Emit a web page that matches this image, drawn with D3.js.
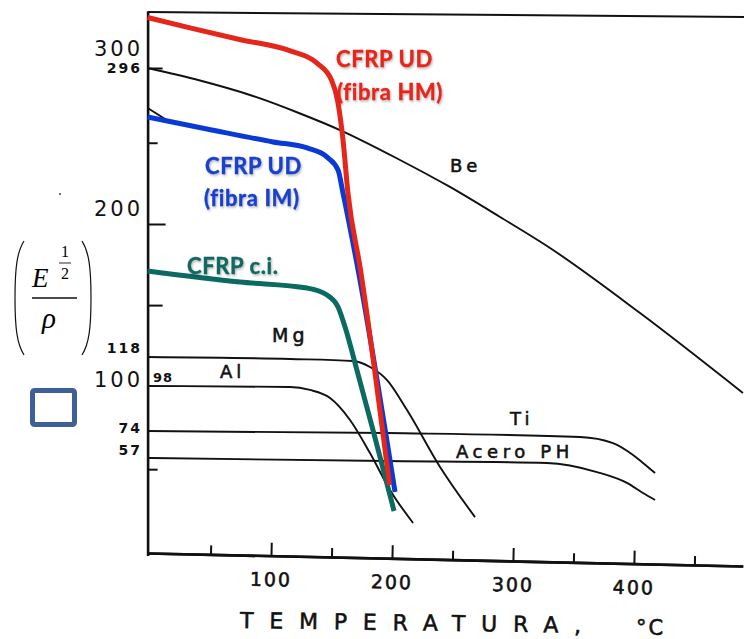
<!DOCTYPE html>
<html>
<head>
<meta charset="utf-8">
<script src="https://cdn.jsdelivr.net/npm/d3@7"></script>
<style>
body { margin: 0; background: #fff; }
svg { display: block; }
.scan { font-family: "DejaVu Sans", Verdana, sans-serif; fill: #111; }
.heavy { stroke: #111; stroke-width: 0.55; }
.cfrp { font-family: Lato, "Open Sans", sans-serif; font-weight: 700; font-variant-ligatures: none; }
</style>
</head>
<body>
<svg id="chart" width="744" height="639"></svg>
<script>
// ----- data (temperature in C, value of E^1/2 / rho) -----
const hmTemp = [-2, 33, 74, 116, 138, 150, 155, 159.5, 163.6, 174, 198];
const hmVal  = [327, 320.6, 313.5, 306.5, 299, 288.6, 276, 251.7, 219, 171.6, 40];

const imTemp = [-2, 47, 101.7, 129.8, 146.3, 155.4, 159.5, 172, 202.5];
const imVal  = [265.8, 258.5, 250.5, 246.8, 241.2, 233.2, 219, 171.6, 35.7];

const ciTemp = [-2, 74.4, 129.8, 146.3, 155.4, 161.2, 171, 184.3, 201.7];
const ciVal  = [171, 164.2, 160.5, 156.2, 148.8, 136.5, 109, 74.5, 23.8];

const beTemp = [-2, 41.3, 82.6, 124, 157, 206.6, 247.9, 289.3, 330.6, 405, 490];
const beVal  = [296, 288.3, 279.4, 268, 257.8, 239.4, 222.8, 204.3, 185.2, 145.1, 94.3];

const mgTemp = [-2, 115.7, 167.8, 181.8, 195.9, 212.4, 239.7, 268.6];
const mgVal  = [118, 116.6, 115.2, 111.1, 102.1, 85.2, 51.4, 20];

const alTemp = [-2, 115.7, 132.2, 148.8, 165.3, 181.8, 198.3, 217.4];
const alVal  = [98, 97.5, 95.9, 91.6, 79.9, 60.1, 37, 16.3];

const tiTemp = [-2, 195.9, 355.4, 382.6, 399.2, 407.4, 417.4];
const tiVal  = [74, 72.7, 70.2, 66.4, 58.9, 53.9, 47.6];

const phTemp = [-2, 195.9, 328, 369.4, 394.2, 407.4, 417.4];
const phVal  = [57, 55.1, 53.9, 48.2, 41.4, 35.1, 30.7];

// bit of the original scanned curve that shows under the blue one
const stubTemp = [-2, 18];
const stubVal  = [271.4, 262];

const xMajorTicks = [100, 200, 300, 400];
const xMinorTicks = [50, 150, 250, 350, 450];
const yBigLabels = [300, 200, 100];
const ySmallLabels = [296, 118, 74, 57];

// ----- scales -----
var svg = d3.select("#chart");
var x = d3.scaleLinear().domain([-2, 490]).range([147.6, 742.9]);
// the scanned axis is not quite linear, so the scale is pinned at the labelled values
var y = d3.scaleLinear()
    .domain([-4, 0, 57, 74, 98, 118, 200, 296, 331])
    .range([555.4, 549, 458, 431, 386, 357, 224, 68, 11]);

function zip(t, v) { return t.map((d, i) => ({t: d, v: v[i]})); }
var line = d3.line().x(d => x(d.t)).y(d => y(d.v)).curve(d3.curveMonotoneX);

// shadow for the coloured labels
var defs = svg.append("defs");
var f = defs.append("filter").attr("id", "sh").attr("x", "-10%").attr("y", "-20%").attr("width", "130%").attr("height", "150%");
f.append("feDropShadow").attr("dx", 1).attr("dy", 1.5).attr("stdDeviation", 1.2).attr("flood-color", "#000").attr("flood-opacity", 0.3);

// ----- frame -----
svg.append("line").attr("x1", x(-2)).attr("y1", 12).attr("x2", 744).attr("y2", 17)
    .attr("stroke", "#111").attr("stroke-width", 2);

// y axis
var yAxisG = svg.append("g").attr("transform", "translate(" + x(-2) + ",0)");
yAxisG.call(d3.axisLeft(y).tickValues([]).tickSizeOuter(0));
yAxisG.append("g").call(d3.axisLeft(y).tickValues([200]).tickSize(-18).tickFormat(""));
yAxisG.append("g").call(d3.axisLeft(y).tickValues([296, 150]).tickSize(-15).tickFormat(""));
yAxisG.append("g").call(d3.axisLeft(y).tickValues([250, 50]).tickSize(-10).tickFormat(""));
yAxisG.selectAll("path.domain").attr("stroke", "#111").attr("stroke-width", 2.6);
yAxisG.selectAll(".tick line").attr("stroke", "#111").attr("stroke-width", 2);
yAxisG.selectAll("g g path.domain").remove();

// y labels
var bigOff = {300: -5.5, 200: -8, 100: 4};
var smallOff = {296: 5, 118: -4, 74: 2, 57: -3};
svg.selectAll(".ybig").data(yBigLabels).enter().append("text")
    .attr("class", "scan").attr("x", 143).attr("y", d => y(d) + bigOff[d])
    .attr("text-anchor", "end").attr("font-size", 21).attr("letter-spacing", 3)
    .text(d => d);
svg.selectAll(".ysmall").data(ySmallLabels).enter().append("text")
    .attr("class", "scan").attr("x", 142).attr("y", d => y(d) + smallOff[d])
    .attr("text-anchor", "end").attr("font-size", 14).attr("font-weight", 700).attr("letter-spacing", 2)
    .text(d => d);
svg.append("text").attr("class", "scan").attr("x", 153).attr("y", y(98) - 4)
    .attr("font-size", 13).attr("font-weight", 700).attr("letter-spacing", 1).text("98");

// x axis, the scan is slightly rotated
var xAxisG = svg.append("g").attr("transform", "translate(0,553) rotate(1.25 147.6 0)");
xAxisG.append("g").call(d3.axisBottom(x).tickValues(xMinorTicks).tickSize(-9).tickSizeOuter(0).tickFormat(""));
xAxisG.append("g").call(d3.axisBottom(x).tickValues(xMajorTicks).tickSize(-13).tickSizeOuter(0).tickPadding(17));
xAxisG.selectAll("path.domain").attr("stroke", "#111").attr("stroke-width", 2.6);
xAxisG.selectAll(".tick line").attr("stroke", "#111").attr("stroke-width", 2);
xAxisG.selectAll(".tick text").attr("class", "scan heavy").attr("font-size", 19).attr("letter-spacing", 2)
    .attr("font-family", null).attr("fill", null);

var title = svg.append("g").attr("transform", "rotate(0.8 240 628)");
title.append("text").attr("class", "scan heavy").attr("x", 240).attr("y", 628)
    .attr("font-size", 22).attr("letter-spacing", 15.8).text("TEMPERATURA,");
svg.append("text").attr("class", "scan heavy").attr("x", 636).attr("y", 635)
    .attr("font-size", 21).attr("letter-spacing", 2).text("°C");

// ----- black curves -----
var black = [[beTemp, beVal], [mgTemp, mgVal], [alTemp, alVal], [tiTemp, tiVal], [phTemp, phVal], [stubTemp, stubVal]];
black.forEach(s => {
    svg.append("path").datum(zip(s[0], s[1])).attr("d", line)
        .attr("fill", "none").attr("stroke", "#111").attr("stroke-width", 1.9);
});

// ----- CFRP curves -----
svg.append("path").datum(zip(ciTemp, ciVal)).attr("d", line)
    .attr("fill", "none").attr("stroke", "#0b6a62").attr("stroke-width", 5);
svg.append("path").datum(zip(imTemp, imVal)).attr("d", line)
    .attr("fill", "none").attr("stroke", "#0a3ad4").attr("stroke-width", 5);
svg.append("path").datum(zip(hmTemp, hmVal)).attr("d", line)
    .attr("fill", "none").attr("stroke", "#e4261b").attr("stroke-width", 5);

// ----- curve labels -----
function scanLabel(tx, ty, txt, size, ls) {
    svg.append("text").attr("class", "scan heavy").attr("x", tx).attr("y", ty)
        .attr("font-size", size).attr("letter-spacing", ls).text(txt);
}
scanLabel(450, 172, "Be", 18, 4);
scanLabel(272, 342, "Mg", 19, 4);
scanLabel(220, 378, "Al", 18, 4);
scanLabel(510, 425, "Ti", 18, 4);
scanLabel(456, 458, "Acero PH", 18, 4.6);

function cfrpLabel(tx, ty, txt, col) {
    svg.append("text").attr("class", "cfrp").attr("x", tx).attr("y", ty)
        .attr("font-size", 22).attr("letter-spacing", 0.6).attr("fill", col)
        .attr("stroke", col).attr("stroke-width", 0.4).attr("filter", "url(#sh)").text(txt);
}
cfrpLabel(336, 67, "CFRP UD", "#e4261b");
cfrpLabel(337, 100, "(fibra HM)", "#e4261b");
cfrpLabel(205, 174, "CFRP UD", "#1a3fce");
cfrpLabel(204, 206, "(fibra IM)", "#1a3fce");
cfrpLabel(187, 274, "CFRP c.i.", "#12685f");

// ----- y title: (E^1/2 / rho) -----
var yt = svg.append("g");
yt.append("path").attr("d", "M24,241 C17,252 15,268 15,298 C15,328 17,344 24,355")
    .attr("fill", "none").attr("stroke", "#111").attr("stroke-width", 1.2);
yt.append("path").attr("d", "M82,241 C89,252 91,268 91,298 C91,328 89,344 82,355")
    .attr("fill", "none").attr("stroke", "#111").attr("stroke-width", 1.2);
yt.append("line").attr("x1", 32).attr("x2", 77).attr("y1", 298).attr("y2", 298)
    .attr("stroke", "#111").attr("stroke-width", 1.3);
yt.append("text").attr("x", 32).attr("y", 287).attr("font-family", "Liberation Serif, serif")
    .attr("font-style", "italic").attr("font-size", 27).text("E");
yt.append("text").attr("x", 61).attr("y", 257).attr("font-family", "Liberation Serif, serif")
    .attr("font-size", 16).text("1");
yt.append("line").attr("x1", 59).attr("x2", 71).attr("y1", 263).attr("y2", 263)
    .attr("stroke", "#111").attr("stroke-width", 0.9);
yt.append("text").attr("x", 61).attr("y", 279).attr("font-family", "Liberation Serif, serif")
    .attr("font-size", 16).text("2");
yt.append("text").attr("x", 42).attr("y", 328).attr("font-family", "Liberation Serif, serif")
    .attr("font-style", "italic").attr("font-size", 29).text("ρ");

// small box and speck
svg.append("rect").attr("x", 32.5).attr("y", 390.5).attr("width", 42).attr("height", 34).attr("rx", 2)
    .attr("fill", "#fff").attr("stroke", "#3d6096").attr("stroke-width", 5);
svg.append("circle").attr("cx", 60).attr("cy", 194).attr("r", 1).attr("fill", "#444");
</script>
</body>
</html>
